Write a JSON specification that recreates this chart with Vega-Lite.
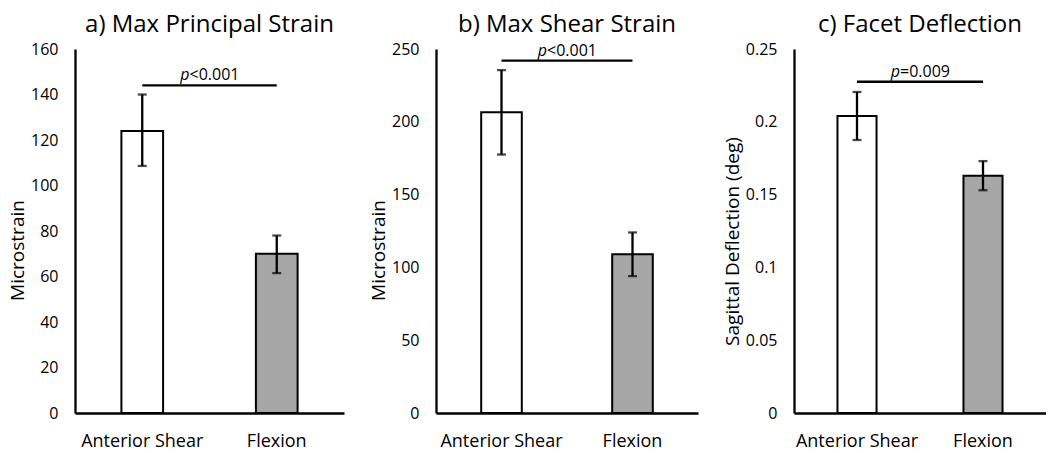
{
  "$schema": "https://vega.github.io/schema/vega-lite/v6.json",
  "padding": {"left": 8, "top": 13, "right": 0, "bottom": 0},
  "spacing": 25,
  "background": "white",
  "config": {
    "font": "Open Sans",
    "view": {"stroke": null},
    "axis": {"domainColor": "black", "domainWidth": 2.3, "ticks": false, "grid": false, "labelColor": "black", "titleColor": "black", "labelFont": "Open Sans", "titleFont": "Open Sans", "titleFontWeight": "normal"},
    "axisY": {"labelFontSize": 16, "labelPadding": 17, "titleFontSize": 19, "titlePadding": 3},
    "axisX": {"labelFontSize": 18, "labelPadding": 19, "labelAngle": 0},
    "title": {"fontSize": 24, "fontWeight": "normal", "color": "black", "font": "Open Sans", "anchor": "middle"}
  },
  "hconcat": [
    {
      "width": 269, "height": 364,
      "title": "a) Max Principal Strain",
      "layer": [
        {"data": {"values": [
          {"group": "Anterior Shear", "mean": 124, "lo": 108.6, "hi": 140},
          {"group": "Flexion", "mean": 70, "lo": 61.5, "hi": 78}
        ]},
         "encoding": {"x": {"field": "group", "type": "nominal", "sort": null, "scale": {"paddingInner": 0.69, "paddingOuter": 0.345}, "axis": {"title": null}}},
         "layer": [
          {"mark": {"type": "bar", "stroke": "black", "strokeWidth": 2},
           "encoding": {"y": {"field": "mean", "type": "quantitative", "scale": {"domain": [0, 160], "nice": false}, "axis": {"title": "Microstrain", "titleY": 201, "values": [0, 20, 40, 60, 80, 100, 120, 140, 160]}},
                        "fill": {"field": "group", "type": "nominal", "scale": {"range": ["white", "#A6A6A6"]}, "legend": null}}},
          {"mark": {"type": "rule", "strokeWidth": 2.3, "color": "black"}, "encoding": {"y": {"field": "lo", "type": "quantitative"}, "y2": {"field": "hi"}}},
          {"mark": {"type": "tick", "thickness": 2.3, "size": 9, "color": "black"}, "encoding": {"y": {"field": "lo", "type": "quantitative"}}},
          {"mark": {"type": "tick", "thickness": 2.3, "size": 9, "color": "black"}, "encoding": {"y": {"field": "hi", "type": "quantitative"}}}
        ]},
        {"data": {"values": [{"from": "Anterior Shear", "to": "Flexion", "y": 144, "p": "p", "rest": "<0.001"}]},
         "layer": [
           {"mark": {"type": "rule", "strokeWidth": 2.3, "color": "black"}, "encoding": {"x": {"field": "from", "type": "nominal", "sort": null, "bandPosition": 0.5}, "x2": {"field": "to", "bandPosition": 0.5}, "y": {"field": "y", "type": "quantitative"}}},
           {"mark": {"type": "text", "fontSize": 16, "fontStyle": "italic", "align": "right", "baseline": "bottom", "dx": -20, "dy": -2, "color": "black"}, "encoding": {"y": {"field": "y", "type": "quantitative"}, "text": {"field": "p"}}},
           {"mark": {"type": "text", "fontSize": 16, "align": "left", "baseline": "bottom", "dx": -20, "dy": -2, "color": "black"}, "encoding": {"y": {"field": "y", "type": "quantitative"}, "text": {"field": "rest"}}}
         ]}
      ]
    },
    {
      "width": 262, "height": 364,
      "title": "b) Max Shear Strain",
      "layer": [
        {"data": {"values": [
          {"group": "Anterior Shear", "mean": 206.5, "lo": 177.5, "hi": 235.5},
          {"group": "Flexion", "mean": 109, "lo": 94, "hi": 124}
        ]},
         "encoding": {"x": {"field": "group", "type": "nominal", "sort": null, "scale": {"paddingInner": 0.69, "paddingOuter": 0.345}, "axis": {"title": null}}},
         "layer": [
          {"mark": {"type": "bar", "stroke": "black", "strokeWidth": 2},
           "encoding": {"y": {"field": "mean", "type": "quantitative", "scale": {"domain": [0, 250], "nice": false}, "axis": {"title": "Microstrain", "titleY": 201, "values": [0, 50, 100, 150, 200, 250]}},
                        "fill": {"field": "group", "type": "nominal", "scale": {"range": ["white", "#A6A6A6"]}, "legend": null}}},
          {"mark": {"type": "rule", "strokeWidth": 2.3, "color": "black"}, "encoding": {"y": {"field": "lo", "type": "quantitative"}, "y2": {"field": "hi"}}},
          {"mark": {"type": "tick", "thickness": 2.3, "size": 9, "color": "black"}, "encoding": {"y": {"field": "lo", "type": "quantitative"}}},
          {"mark": {"type": "tick", "thickness": 2.3, "size": 9, "color": "black"}, "encoding": {"y": {"field": "hi", "type": "quantitative"}}}
        ]},
        {"data": {"values": [{"from": "Anterior Shear", "to": "Flexion", "y": 242, "p": "p", "rest": "<0.001"}]},
         "layer": [
           {"mark": {"type": "rule", "strokeWidth": 2.3, "color": "black"}, "encoding": {"x": {"field": "from", "type": "nominal", "sort": null, "bandPosition": 0.5}, "x2": {"field": "to", "bandPosition": 0.5}, "y": {"field": "y", "type": "quantitative"}}},
           {"mark": {"type": "text", "fontSize": 16, "fontStyle": "italic", "align": "right", "baseline": "bottom", "dx": -20, "dy": -2, "color": "black"}, "encoding": {"y": {"field": "y", "type": "quantitative"}, "text": {"field": "p"}}},
           {"mark": {"type": "text", "fontSize": 16, "align": "left", "baseline": "bottom", "dx": -20, "dy": -2, "color": "black"}, "encoding": {"y": {"field": "y", "type": "quantitative"}, "text": {"field": "rest"}}}
         ]}
      ]
    },
    {
      "width": 252, "height": 364,
      "title": "c) Facet Deflection",
      "layer": [
        {"data": {"values": [
          {"group": "Anterior Shear", "mean": 0.204, "lo": 0.1875, "hi": 0.2205},
          {"group": "Flexion", "mean": 0.163, "lo": 0.153, "hi": 0.173}
        ]},
         "encoding": {"x": {"field": "group", "type": "nominal", "sort": null, "scale": {"paddingInner": 0.69, "paddingOuter": 0.345}, "axis": {"title": null}}},
         "layer": [
          {"mark": {"type": "bar", "stroke": "black", "strokeWidth": 2},
           "encoding": {"y": {"field": "mean", "type": "quantitative", "scale": {"domain": [0, 0.25], "nice": false}, "axis": {"title": "Sagittal Deflection (deg)", "titleY": 192, "values": [0, 0.05, 0.1, 0.15, 0.2, 0.25], "format": "~g"}},
                        "fill": {"field": "group", "type": "nominal", "scale": {"range": ["white", "#A6A6A6"]}, "legend": null}}},
          {"mark": {"type": "rule", "strokeWidth": 2.3, "color": "black"}, "encoding": {"y": {"field": "lo", "type": "quantitative"}, "y2": {"field": "hi"}}},
          {"mark": {"type": "tick", "thickness": 2.3, "size": 9, "color": "black"}, "encoding": {"y": {"field": "lo", "type": "quantitative"}}},
          {"mark": {"type": "tick", "thickness": 2.3, "size": 9, "color": "black"}, "encoding": {"y": {"field": "hi", "type": "quantitative"}}}
        ]},
        {"data": {"values": [{"from": "Anterior Shear", "to": "Flexion", "y": 0.2275, "p": "p", "rest": "=0.009"}]},
         "layer": [
           {"mark": {"type": "rule", "strokeWidth": 2.3, "color": "black"}, "encoding": {"x": {"field": "from", "type": "nominal", "sort": null, "bandPosition": 0.5}, "x2": {"field": "to", "bandPosition": 0.5}, "y": {"field": "y", "type": "quantitative"}}},
           {"mark": {"type": "text", "fontSize": 16, "fontStyle": "italic", "align": "right", "baseline": "bottom", "dx": -20, "dy": -2, "color": "black"}, "encoding": {"y": {"field": "y", "type": "quantitative"}, "text": {"field": "p"}}},
           {"mark": {"type": "text", "fontSize": 16, "align": "left", "baseline": "bottom", "dx": -20, "dy": -2, "color": "black"}, "encoding": {"y": {"field": "y", "type": "quantitative"}, "text": {"field": "rest"}}}
         ]}
      ]
    }
  ]
}
